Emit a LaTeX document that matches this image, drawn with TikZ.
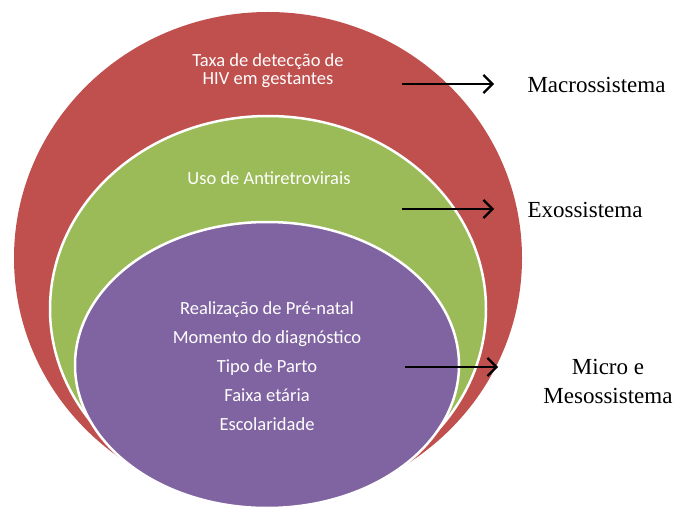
\documentclass[tikz,border=0pt]{standalone}
\usepackage{fontspec}
\setmainfont{Carlito}
\newfontfamily\timesf{Liberation Serif}
\usetikzlibrary{arrows.meta}
\definecolor{macro}{HTML}{C0504D}
\definecolor{exo}{HTML}{9BBB59}
\definecolor{micro}{HTML}{8064A2}
\begin{document}
\begin{tikzpicture}[x=1pt,y=-1pt,
		txt/.style={text=white,align=center,font=\fontsize{18.5}{18}\selectfont},
		sist/.style={align=center,anchor=west,font=\timesf\fontsize{23}{29}\selectfont},
		seta/.style={line width=2.3pt,-{Straight Barb[length=9pt,width=18pt]}}]
			\useasboundingbox(0,0)rectangle(675,508);
			\fill[macro](268,258)ellipse(254 and 246);
			\filldraw[fill=exo,draw=white,line width=2.5pt](268,309)ellipse(218 and 193);
			\filldraw[fill=micro,draw=white,line width=2.5pt](267,365)ellipse(192 and 143);
			\node[txt](t1)at(268,71){Taxa de detecção de\\HIV em gestantes};
			\node[txt](t2)at(269,178){Uso de Antiretrovirais};
			\node[txt,font=\fontsize{18.5}{29}\selectfont](t3)at(267,366){Realização de Pré-natal\\Momento do diagnóstico\\Tipo de Parto\\Faixa etária\\Escolaridade};
			\coordinate(a1)at(402,84);\coordinate(b1)at(494,84);
			\coordinate(a2)at(402,209);\coordinate(b2)at(494,209);
			\coordinate(a3)at(405,367);\coordinate(b3)at(498,367);
			\draw[seta](a1)--(b1);
			\draw[seta](a2)--(b2);
			\draw[seta](a3)--(b3);
			\node[sist](s1)at(524,85){Macrossistema};
			\node[sist](s2)at(524,210){Exossistema};
			\node[sist,anchor=center](s3)at(608,381){Micro e\\Mesossistema};
		\end{tikzpicture}
\end{document}
